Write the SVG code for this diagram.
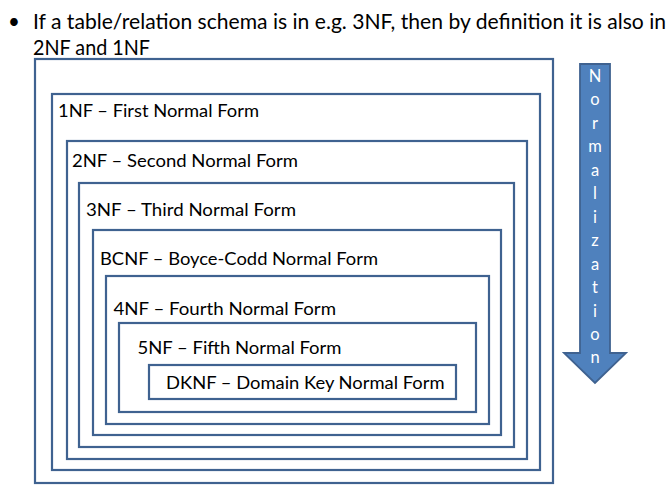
<svg xmlns="http://www.w3.org/2000/svg" width="668" height="493" viewBox="0 0 668 493">
<style>
.box{fill:none;stroke:#3F6290;stroke-width:2.2}
.lbl{font-family:Lato,"Open Sans","Liberation Sans",sans-serif;font-size:17.5px;fill:#000}
.ttl{font-family:Lato,"Open Sans","Liberation Sans",sans-serif;font-size:20.5px;fill:#000}
.arr{fill:#4F81BD;stroke:#3F6290;stroke-width:1.8}
.al{font-family:Lato,"Open Sans","Liberation Sans",sans-serif;font-size:16.5px;fill:#fff;text-anchor:middle}
</style>
<rect width="668" height="493" fill="#fff"/>
<g id="title">
<text class="ttl" x="8" y="29">•</text>
<text class="ttl" x="33" y="29" textLength="633" lengthAdjust="spacingAndGlyphs">If a table/relation schema is in e.g. 3NF, then by definition it is also in</text>
<text class="ttl" x="33" y="55" textLength="117" lengthAdjust="spacingAndGlyphs">2NF and 1NF</text>
</g>
<g id="outer"><rect class="box" x="35" y="59" width="518" height="424"/></g>
<g id="nf1"><rect class="box" x="52" y="94" width="488" height="376"/>
<text class="lbl" x="58" y="117" textLength="201" lengthAdjust="spacingAndGlyphs">1NF – First Normal Form</text></g>
<g id="nf2"><rect class="box" x="67" y="141" width="460" height="318"/>
<text class="lbl" x="72" y="167" textLength="226" lengthAdjust="spacingAndGlyphs">2NF – Second Normal Form</text></g>
<g id="nf3"><rect class="box" x="79" y="183" width="435" height="264"/>
<text class="lbl" x="86" y="216" textLength="210" lengthAdjust="spacingAndGlyphs">3NF – Third Normal Form</text></g>
<g id="bcnf"><rect class="box" x="93" y="230" width="408" height="205"/>
<text class="lbl" x="100" y="264.5" textLength="278" lengthAdjust="spacingAndGlyphs">BCNF – Boyce-Codd Normal Form</text></g>
<g id="nf4"><rect class="box" x="106" y="276" width="383" height="148"/>
<text class="lbl" x="113.5" y="315" textLength="222.5" lengthAdjust="spacingAndGlyphs">4NF – Fourth Normal Form</text></g>
<g id="nf5"><rect class="box" x="119" y="323" width="357" height="89"/>
<text class="lbl" x="137.5" y="353.5" textLength="204" lengthAdjust="spacingAndGlyphs">5NF – Fifth Normal Form</text></g>
<g id="dknf"><rect class="box" x="149" y="365" width="307" height="34"/>
<text class="lbl" x="166" y="389" textLength="278.5" lengthAdjust="spacingAndGlyphs">DKNF – Domain Key Normal Form</text></g>
<g id="arrow">
<polygon class="arr" points="580,64 610,64 610,353 626,353 595,383 564,353 580,353"/>
<text class="al" x="595" y="82">N</text>
<text class="al" x="595" y="105.4">o</text>
<text class="al" x="595" y="128.9">r</text>
<text class="al" x="595" y="152.3">m</text>
<text class="al" x="595" y="175.8">a</text>
<text class="al" x="595" y="199.2">l</text>
<text class="al" x="595" y="222.7">i</text>
<text class="al" x="595" y="246.1">z</text>
<text class="al" x="595" y="269.6">a</text>
<text class="al" x="595" y="293">t</text>
<text class="al" x="595" y="316.5">i</text>
<text class="al" x="595" y="339.9">o</text>
<text class="al" x="595" y="363.4">n</text>
</g>
<g id="connectors"/>
</svg>
